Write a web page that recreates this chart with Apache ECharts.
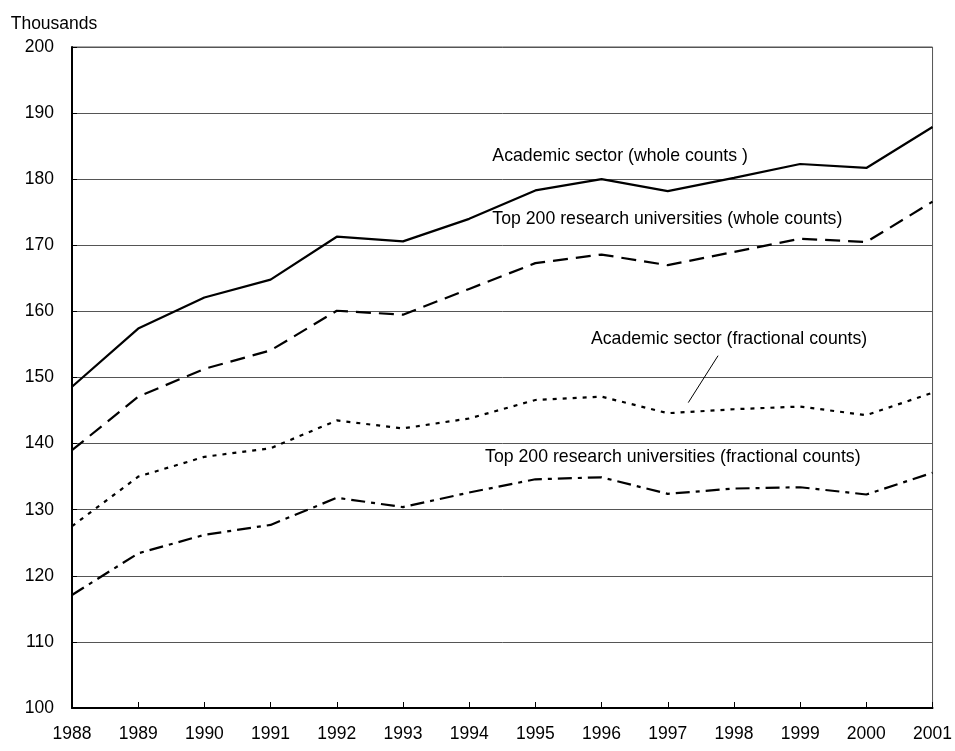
<!DOCTYPE html>
<html><head><meta charset="utf-8">
<script src="https://cdn.jsdelivr.net/npm/echarts@6/dist/echarts.min.js"></script>
<style>html,body{margin:0;padding:0;background:#fff;}#c{width:955px;height:751px;}</style>
</head><body><div id="c"></div>
<script>
const years = [1988,1989,1990,1991,1992,1993,1994,1995,1996,1997,1998,1999,2000,2001];
const academicWhole = [148.6,157.4,162.1,164.8,171.3,170.6,174.0,178.3,180.0,178.2,180.2,182.3,181.7,187.9];
const top200Whole = [139.0,147.1,151.3,154.1,160.1,159.5,163.4,167.3,168.6,167.0,169.0,171.0,170.5,176.6];
const academicFrac = [127.5,135.0,138.0,139.3,143.5,142.3,143.8,146.6,147.1,144.6,145.2,145.6,144.3,147.7];
const top200Frac = [117.1,123.4,126.2,127.7,131.8,130.4,132.6,134.6,134.9,132.4,133.2,133.4,132.3,135.6];
const yTicks = [100,110,120,130,140,150,160,170,180,190,200];
const seriesNames = ['Academic sector (whole counts )','Top 200 research universities (whole counts)','Academic sector (fractional counts)','Top 200 research universities (fractional counts)'];
const labelAnchors = [[1994.35,183.5],[1994.35,173.9],[1995.84,155.8],[1994.24,137.9]];
const leaderLine = [[1997.76,153.3],[1997.31,146.2]];

const FONT = '"Liberation Sans", Arial, sans-serif';
const chart = echarts.init(document.getElementById('c'), null, {renderer:'canvas'});
function pairs(arr){ return years.map((y,i)=>[y,arr[i]]); }
const styles = [
  {type:'solid'},
  {type:[15,8]},
  {type:[4,6]},
  {type:[14,6,4,6]}
];
chart.setOption({
  animation:false,
  backgroundColor:'#fff',
  grid:{left:72,right:21,top:47,bottom:43,show:true,borderColor:'#555',borderWidth:1},
  xAxis:{type:'value',min:1988,max:2001,interval:1,
    axisLine:{show:true,lineStyle:{color:'#000',width:2}},
    axisTick:{show:true,inside:true,length:6,lineStyle:{color:'#000',width:1}},
    axisLabel:{color:'#000',fontFamily:FONT,fontSize:17.5,margin:17,formatter:v=>String(v)},
    splitLine:{show:false}},
  yAxis:{type:'value',min:100,max:200,interval:10,
    axisLine:{show:true,lineStyle:{color:'#000',width:2}},
    axisTick:{show:true,inside:true,length:5,lineStyle:{color:'#000'}},
    axisLabel:{color:'#000',fontFamily:FONT,fontSize:17.5,margin:18,formatter:v=>String(v)},
    splitLine:{show:true,lineStyle:{color:'#555',width:1}},
    name:'Thousands',nameLocation:'end',nameGap:14,
    nameTextStyle:{color:'#000',fontFamily:FONT,fontSize:17.5,align:'center',padding:[0,0,0,-36]}},
  series:[academicWhole,top200Whole,academicFrac,top200Frac].map((d,i)=>({
    name:seriesNames[i],type:'line',data:pairs(d),symbol:'none',
    lineStyle:Object.assign({color:'#000',width:2.2},styles[i])
  }))
});
function drawAnnotations(){
  const g=[];
  labelAnchors.forEach((a,i)=>{
    const p=chart.convertToPixel({gridIndex:0},a);
    g.push({type:'text',x:p[0],y:p[1],style:{text:seriesNames[i],fill:'#000',font:'17.7px '+FONT,textAlign:'left',textVerticalAlign:'middle'}});
  });
  const p1=chart.convertToPixel({gridIndex:0},leaderLine[0]);
  const p2=chart.convertToPixel({gridIndex:0},leaderLine[1]);
  g.push({type:'line',shape:{x1:p1[0],y1:p1[1],x2:p2[0],y2:p2[1]},style:{stroke:'#000',lineWidth:1}});
  chart.setOption({graphic:g});
}
drawAnnotations();
</script></body></html>
